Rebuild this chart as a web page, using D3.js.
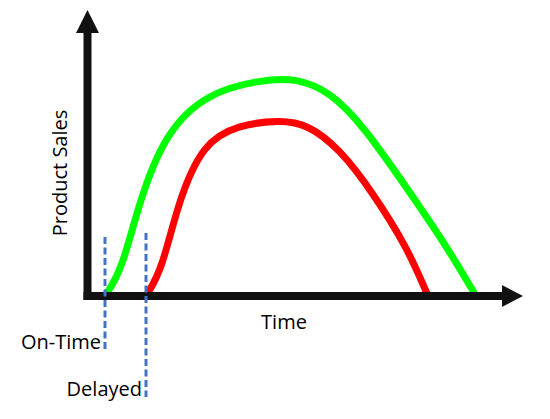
<!DOCTYPE html>
<html>
<head>
	<meta charset="utf-8">
	<script src="https://d3js.org/d3.v7.min.js"></script>
	<style>
		body { margin: 0; background: #fff; }
		text { font-family: "Open Sans", sans-serif; fill: #000; }
	</style>
</head>
<body>
	<svg id="chart" width="550" height="419"></svg>
	<script>

	// On-time launch: time and sales
	const onTimeTime  = [1.5, 3.2, 4.9, 7.5, 11.7, 17, 20.7, 24, 27.3, 32.3, 35.7, 38.6];
	const onTimeSales = [0, 2.6, 9.4, 16.3, 20.3, 21.6, 21.8, 20.4, 17.1, 9.9, 4.9, 0];

	// Delayed launch: time and sales
	const delayedTime  = [5.6, 7.2, 8.8, 11.3, 14.8, 19, 21.7, 25, 28.3, 31.7, 33.8];
	const delayedSales = [0, 2.6, 9.4, 15.3, 17.1, 17.6, 17.2, 14.7, 10.3, 4.9, 0];

	// launch markers
	const launchNames = ["On-Time", "Delayed"];
	const launchTimes = [1.5, 5.6];

	const svg = d3.select("#chart");

	// scales
	const x = d3.scaleLinear().domain([0, 43]).range([90, 520]);
	const y = d3.scaleLinear().domain([0, 25]).range([296, 46]);

	const line = d3.line()
	    .x(d => x(d[0]))
	    .y(d => y(d[1]))
	    .curve(d3.curveBasis);

	// the two sales curves
	svg.append("path")
	    .datum(d3.zip(onTimeTime, onTimeSales))
	    .attr("d", line)
	    .attr("fill", "none")
	    .attr("stroke", "#00ff00")
	    .attr("stroke-width", 7)
	    .attr("stroke-linejoin", "round");

	svg.append("path")
	    .datum(d3.zip(delayedTime, delayedSales))
	    .attr("d", line)
	    .attr("fill", "none")
	    .attr("stroke", "#ff0000")
	    .attr("stroke-width", 7)
	    .attr("stroke-linejoin", "round");

	// axes with arrows
	const ax = x(0) - 2.5, ay = y(0);
	svg.append("line")
	    .attr("x1", ax).attr("y1", ay + 4)
	    .attr("x2", ax).attr("y2", 32)
	    .attr("stroke", "#111").attr("stroke-width", 8);
	svg.append("path")
	    .attr("d", `M${ax - 11.5},33 L${ax},10 L${ax + 11.5},33 Z`)
	    .attr("fill", "#111");

	svg.append("line")
	    .attr("x1", ax - 4).attr("y1", ay)
	    .attr("x2", 503).attr("y2", ay)
	    .attr("stroke", "#111").attr("stroke-width", 8);
	svg.append("path")
	    .attr("d", `M502,${ay - 11} L523,${ay} L502,${ay + 11} Z`)
	    .attr("fill", "#111");

	// dashed launch markers + labels
	const markTop = [237, 233];
	const markBottom = [350, 397];
	launchNames.forEach(function(name, i) {
	    const mx = x(launchTimes[i]);
	    svg.append("line")
	        .attr("x1", mx).attr("y1", markTop[i])
	        .attr("x2", mx).attr("y2", markBottom[i])
	        .attr("stroke", "#4472c4")
	        .attr("stroke-width", 3)
	        .attr("stroke-dasharray", "7,3.5");
	    svg.append("text")
	        .attr("x", mx - 4)
	        .attr("y", markBottom[i] - 1)
	        .attr("text-anchor", "end")
	        .attr("font-size", 20)
	        .text(name);
	});

	// axis titles
	svg.append("text")
	    .attr("x", 284)
	    .attr("y", 329)
	    .attr("text-anchor", "middle")
	    .attr("font-size", 20)
	    .text("Time");

	svg.append("text")
	    .attr("transform", "translate(67,173) rotate(-90)")
	    .attr("text-anchor", "middle")
	    .attr("font-size", 20)
	    .text("Product Sales");

	</script>
</body>
</html>
